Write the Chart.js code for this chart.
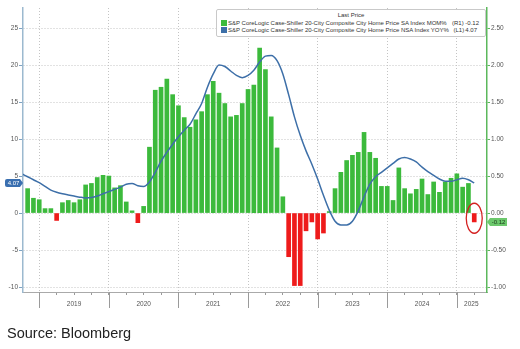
<!DOCTYPE html>
<html><head><meta charset="utf-8">
<script src="https://cdn.jsdelivr.net/npm/chart.js@4.4.1/dist/chart.umd.min.js"></script>
<style>
html,body{margin:0;padding:0;background:#fff;}
#wrap{position:relative;width:520px;height:349px;overflow:hidden;background:#fff;}
#c{position:absolute;left:0;top:0;}
#legend{position:absolute;left:216px;top:9px;width:270px;height:28px;background:#fff;border:1px solid #c9c9c9;border-radius:2px;box-sizing:border-box;font-family:"Liberation Sans",Arial,sans-serif;font-size:6px;color:#333;white-space:nowrap;}
#legend span{position:absolute;line-height:7px;}
.sq{position:absolute;width:6px;height:6px;left:4px;}
#source{position:absolute;left:7px;top:325px;font-family:"Liberation Sans",Arial,sans-serif;font-size:14.5px;color:#222;}
</style></head>
<body>
<div id="wrap">
<canvas id="c" width="520" height="349"></canvas>
<div id="legend">
  <span style="left:0;width:268px;text-align:center;top:2px;">Last Price</span>
  <div class="sq" style="top:10px;background:#3cba3c;"></div>
  <span class="nm" style="left:11px;top:9.5px;">S&amp;P CoreLogic Case-Shiller 20-City Composite City Home Price SA Index MOM%</span>
  <span style="left:235px;top:9.5px;">(R1)</span>
  <span style="right:6px;top:9.5px;">-0.12</span>
  <div class="sq" style="top:17px;background:#3d6fa8;"></div>
  <span class="nm" style="left:11px;top:16.5px;">S&amp;P CoreLogic Case-Shiller 20-City Composite City Home Price NSA Index YOY%</span>
  <span style="left:236.5px;top:16.5px;">(L1)</span>
  <span style="right:8px;top:16.5px;">4.07</span>
</div>
<div id="source">Source: Bloomberg</div>
</div>
<script>
// Months Sep 2018 .. Mar 2025 (x position: months after Dec 2018)
const startYear = 2018, startMonth = 9;
const months = [];
for (let i = 0; i < 79; i++) {
  const t = (startMonth - 1) + i;
  months.push((startYear + Math.floor(t / 12)) + '-' + String(t % 12 + 1).padStart(2, '0'));
}
// S&P CoreLogic Case-Shiller 20-City SA Index MoM % (right axis)
const momSA = [null,
  0.33, 0.20, 0.18,
  0.06, 0.06, -0.10, 0.14, 0.17, 0.14, 0.18, 0.38, 0.40, 0.48, 0.51, 0.50,
  0.34, 0.37, 0.15, 0.03, -0.13, 0.09, 0.89, 1.66, 1.70, 1.81, 1.60, 1.45,
  1.29, 1.16, 1.26, 1.37, 1.60, 1.78, 1.62, 1.48, 1.30, 1.32, 1.48, 1.67,
  1.73, 2.23, 1.94, 1.30, 0.88, 0.22, -0.59, -0.98, -0.98, -0.24, -0.12, -0.35,
  -0.27, 0.02, 0.33, 0.55, 0.71, 0.78, 0.82, 1.09, 0.82, 0.74, 0.36, 0.36,
  0.17, 0.61, 0.33, 0.26, 0.32, 0.46, 0.25, 0.42, 0.28, 0.42, 0.47, 0.53,
  0.35, 0.40, -0.12];
// S&P CoreLogic Case-Shiller 20-City NSA Index YoY % (left axis)
const yoyNSA = [5.3, 4.9, 4.5, 4.1,
  3.6, 3.1, 2.8, 2.6, 2.45, 2.3, 2.15, 2.05, 2.1, 2.3, 2.6, 2.9,
  3.2, 3.5, 3.9, 4.0, 3.7, 3.6, 4.2, 5.5, 7.0, 8.2, 9.3, 10.3,
  11.2, 12.0, 13.4, 14.8, 17.0, 18.8, 20.0, 19.8, 19.2, 18.6, 18.3, 18.6,
  19.3, 20.4, 21.2, 21.3, 20.6, 18.8, 16.0, 13.0, 10.5, 8.4, 6.6, 4.6,
  2.4, 0.4, -1.1, -1.6, -1.6, -1.1, 0.3, 2.2, 3.9, 4.9, 5.5, 6.1,
  6.7, 7.3, 7.5, 7.3, 6.9, 6.2, 5.6, 5.1, 4.6, 4.3, 4.3, 4.5,
  4.7, 4.5, 4.07];
const yearLabels = ['2019', '2020', '2021', '2022', '2023', '2024', '2025'];
const yearLabelPos = [6, 18, 30, 42, 54, 66, 74.5];
const leftTicks = [-10, -5, 0, 5, 10, 15, 20, 25];
const rightTicks = [-1, -0.5, 0, 0.5, 1, 1.5, 2, 2.5];
const lastMom = -0.12, lastYoy = 4.07;

const xOf = i => i - 3;
const barData = momSA.map((v, i) => ({x: xOf(i), y: v})).filter(p => p.y !== null);
const lineData = yoyNSA.map((v, i) => ({x: xOf(i), y: v}));

const GREEN = '#3cba3c', RED = '#ee1b1b', BLUE = '#3d6fa8';

const extras = {
  id: 'extras',
  afterDraw(chart) {
    const {ctx, chartArea} = chart;
    const xs = chart.scales.x, yL = chart.scales.yL, yR = chart.scales.yR;
    ctx.save();
    // year separators below axis
    ctx.strokeStyle = '#9a9a9a'; ctx.lineWidth = 1;
    for (let v = 0; v <= 72; v += 12) {
      const px = Math.round(xs.getPixelForValue(v)) + 0.5;
      ctx.beginPath(); ctx.moveTo(px, chartArea.bottom); ctx.lineTo(px, chartArea.bottom + 16); ctx.stroke();
    }
    // red ellipse around last bar
    const cx = xs.getPixelForValue(75), cy = yR.getPixelForValue(-0.07);
    ctx.strokeStyle = '#d42020'; ctx.lineWidth = 1.3;
    ctx.beginPath(); ctx.ellipse(cx, cy, 8, 15, 0, 0, Math.PI * 2); ctx.stroke();
    // left value tag
    const ly = yL.getPixelForValue(lastYoy);
    ctx.fillStyle = '#3a6fb0';
    ctx.beginPath();
    ctx.moveTo(7, ly - 4); ctx.lineTo(20, ly - 4); ctx.lineTo(23, ly); ctx.lineTo(20, ly + 4); ctx.lineTo(7, ly + 4);
    ctx.quadraticCurveTo(5, ly + 4, 5, ly + 2); ctx.lineTo(5, ly - 2); ctx.quadraticCurveTo(5, ly - 4, 7, ly - 4);
    ctx.fill();
    ctx.fillStyle = '#fff'; ctx.font = '6px "Liberation Sans", Arial'; ctx.textAlign = 'center'; ctx.textBaseline = 'middle';
    ctx.fillText(lastYoy.toFixed(2), 13.5, ly + 0.5);
    // right value tag
    const ry = yR.getPixelForValue(lastMom);
    ctx.fillStyle = '#6cc86c';
    ctx.beginPath();
    ctx.moveTo(487, ry); ctx.lineTo(490, ry - 4); ctx.lineTo(507, ry - 4); ctx.lineTo(507, ry + 4); ctx.lineTo(490, ry + 4);
    ctx.closePath(); ctx.fill();
    ctx.fillStyle = '#1a3a1a';
    ctx.fillText(lastMom.toFixed(2), 498.5, ry + 0.5);
    ctx.restore();
  }
};

new Chart(document.getElementById('c'), {
  type: 'bar',
  data: {
    datasets: [
      {type: 'line', data: lineData, yAxisID: 'yL', borderColor: BLUE, borderWidth: 1.5,
       pointRadius: 0, cubicInterpolationMode: 'monotone', order: 0},
      {type: 'bar', data: barData, yAxisID: 'yR', barThickness: 4,
       backgroundColor: c => (c.raw && c.raw.y < 0) ? RED : GREEN, order: 1}
    ]
  },
  options: {
    responsive: false, animation: false, devicePixelRatio: 1,
    layout: {padding: {top: 8, bottom: 37, left: 0, right: 0}},
    plugins: {legend: {display: false}, tooltip: {enabled: false}},
    scales: {
      x: {
        type: 'linear', min: -2.8, max: 77.2, position: 'bottom', offset: false,
        afterBuildTicks: s => {
          const vals = [];
          for (let v = 0; v <= 75; v += 3) vals.push(v);
          vals.push(74.5);
          vals.sort((a, b) => a - b);
          s.ticks = vals.map(v => ({value: v}));
        },
        afterFit: s => { s.height = 20; },
        ticks: {
          autoSkip: false, maxRotation: 0, padding: 5, color: '#555',
          font: {size: 6.5, family: '"Liberation Sans", Arial'},
          callback: v => { const k = yearLabelPos.indexOf(v); return k >= 0 ? yearLabels[k] : ''; }
        },
        grid: {
          offset: false,
          color: c => (c.tick && c.tick.value % 12 === 0) ? '#c4c4c4' : 'rgba(0,0,0,0)',
          tickColor: c => (c.tick && Number.isInteger(c.tick.value) && c.tick.value % 3 === 0) ? '#999' : 'rgba(0,0,0,0)',
          tickLength: 3, lineWidth: 1
        },
        border: {display: true, color: '#aaa', dash: [1, 2]}
      },
      yL: {
        type: 'linear', position: 'left', min: -10.67, max: 27.71,
        afterBuildTicks: s => { s.ticks = leftTicks.map(v => ({value: v})); },
        afterFit: s => { s.width = 23; },
        ticks: {color: '#555', padding: 1, font: {size: 6.5, family: '"Liberation Sans", Arial'}},
        grid: {color: '#c4c4c4', tickColor: '#7fa3c2', tickLength: 4},
        border: {display: true, color: '#9cb9cf', width: 1.5, dash: [1, 2]}
      },
      yR: {
        type: 'linear', position: 'right', min: -1.067, max: 2.771,
        afterBuildTicks: s => { s.ticks = rightTicks.map(v => ({value: v})); },
        afterFit: s => { s.width = 33; },
        ticks: {color: '#555', padding: 1, font: {size: 6.5, family: '"Liberation Sans", Arial'},
                callback: v => Number(v).toFixed(2)},
        grid: {drawOnChartArea: false, tickColor: '#5cb85c', tickLength: 3},
        border: {display: true, color: '#5cb85c', width: 1.5}
      }
    }
  },
  plugins: [extras]
});
</script>
</body></html>
